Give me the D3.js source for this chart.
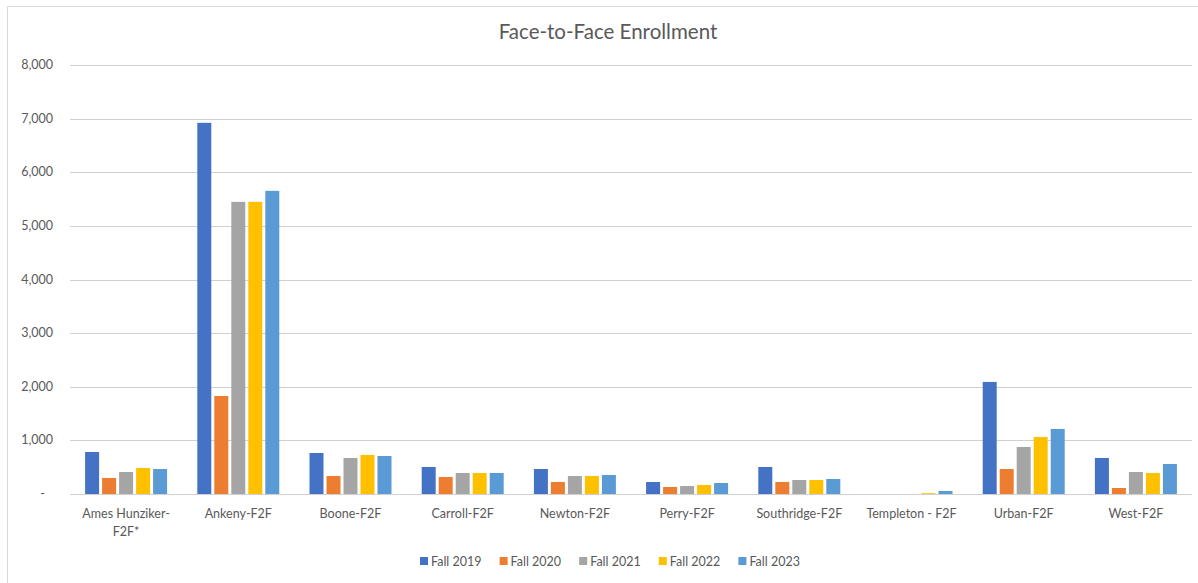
<!DOCTYPE html>
<html lang="en">
<head>
    <meta charset="UTF-8">
    <title>Face-to-Face Enrollment</title>
    <style>
        body { margin: 0; background: #fff; }
        text { font-family: Lato, "Open Sans", sans-serif; fill: #595959; }
    </style>
</head>
<body>
    <script src="https://d3js.org/d3.v7.min.js"></script>
    <script>
        const campuses = ['Ames Hunziker-F2F*', 'Ankeny-F2F', 'Boone-F2F', 'Carroll-F2F', 'Newton-F2F',
            'Perry-F2F', 'Southridge-F2F', 'Templeton - F2F', 'Urban-F2F', 'West-F2F'];
        const terms = ['Fall 2019', 'Fall 2020', 'Fall 2021', 'Fall 2022', 'Fall 2023'];
        const fall2019 = [784, 6922, 765, 504, 466, 224, 504, 0, 2090, 672];
        const fall2020 = [299, 1828, 336, 317, 224, 131, 224, 0, 466, 112];
        const fall2021 = [410, 5448, 672, 392, 336, 149, 261, 0, 877, 410];
        const fall2022 = [485, 5448, 728, 392, 336, 168, 261, 15, 1063, 392];
        const fall2023 = [466, 5653, 709, 392, 354, 205, 280, 56, 1213, 560];
        const yTicks = [0, 1000, 2000, 3000, 4000, 5000, 6000, 7000, 8000];
        const colors = ['#4472c4', '#ed7d31', '#a5a5a5', '#ffc000', '#5b9bd5'];

        const series = [fall2019, fall2020, fall2021, fall2022, fall2023];

        const width = 1198,
            height = 583,
            margin = { left: 70, right: 6, top: 65, bottom: 89 };

        const svg = d3.select('body').append('svg')
            .attr('width', width).attr('height', height);

        // chart border (left + top visible)
        svg.append('rect')
            .attr('x', 7.5).attr('y', 6.5)
            .attr('width', width + 10).attr('height', height + 10)
            .attr('fill', 'none').attr('stroke', '#d9d9d9');

        const x = d3.scaleBand()
            .domain(campuses)
            .range([margin.left, width - margin.right]);

        const xInner = d3.scaleBand()
            .domain(terms)
            .range([0, 85]);

        const y = d3.scaleLinear()
            .domain([0, 8000])
            .range([height - margin.bottom, margin.top]);

        // gridlines
        svg.append('g')
            .selectAll('line')
            .data(yTicks)
            .enter().append('line')
            .attr('x1', margin.left).attr('x2', width - margin.right)
            .attr('y1', d => Math.round(y(d)) + 0.5)
            .attr('y2', d => Math.round(y(d)) + 0.5)
            .attr('stroke', '#d0d0d0')
            .attr('stroke-width', 1);

        // y labels
        svg.append('g')
            .selectAll('text')
            .data(yTicks)
            .enter().append('text')
            .attr('x', d => d === 0 ? 45 : 53)
            .attr('y', d => y(d) + 4)
            .attr('text-anchor', 'end')
            .attr('font-size', 12.5)
            .text(d => d === 0 ? '-' : d3.format(',')(d));

        // bars
        const group = svg.append('g')
            .selectAll('g')
            .data(campuses)
            .enter().append('g')
            .attr('transform', d => `translate(${x(d) + x.bandwidth() / 2 - 41},0)`);

        group.selectAll('rect')
            .data((d, i) => terms.map((t, j) => ({ term: t, value: series[j][i], k: j })))
            .enter().append('rect')
            .attr('x', d => xInner(d.term))
            .attr('width', 14)
            .attr('y', d => y(d.value))
            .attr('height', d => y(0) - y(d.value))
            .attr('fill', d => colors[d.k]);

        // baseline
        svg.append('line')
            .attr('x1', margin.left).attr('x2', width - margin.right)
            .attr('y1', Math.round(y(0)) + 0.5).attr('y2', Math.round(y(0)) + 0.5)
            .attr('stroke', '#d0d0d0');

        // category labels
        svg.append('g')
            .selectAll('text')
            .data(campuses)
            .enter().append('text')
            .attr('x', d => x(d) + x.bandwidth() / 2)
            .attr('y', 518)
            .attr('text-anchor', 'middle')
            .attr('font-size', 12.5)
            .each(function(d) {
                const lines = d === 'Ames Hunziker-F2F*' ? ['Ames Hunziker-', 'F2F*'] : [d];
                d3.select(this).selectAll('tspan')
                    .data(lines)
                    .enter().append('tspan')
                    .attr('x', x(d) + x.bandwidth() / 2)
                    .attr('dy', (l, i) => i === 0 ? 0 : 18)
                    .text(l => l);
            });

        // title
        svg.append('text')
            .attr('x', 608).attr('y', 39)
            .attr('text-anchor', 'middle')
            .attr('font-size', 20.5)
            .text('Face-to-Face Enrollment');

        // legend
        const legend = svg.append('g')
            .selectAll('g')
            .data(terms)
            .enter().append('g')
            .attr('transform', (d, i) => `translate(${420 + i * 79.6},557)`);

        legend.append('rect')
            .attr('width', 8).attr('height', 8)
            .attr('fill', (d, i) => colors[i]);

        legend.append('text')
            .attr('x', 11).attr('y', 8.5)
            .attr('font-size', 12.5)
            .text(d => d);
    </script>
</body>
</html>
